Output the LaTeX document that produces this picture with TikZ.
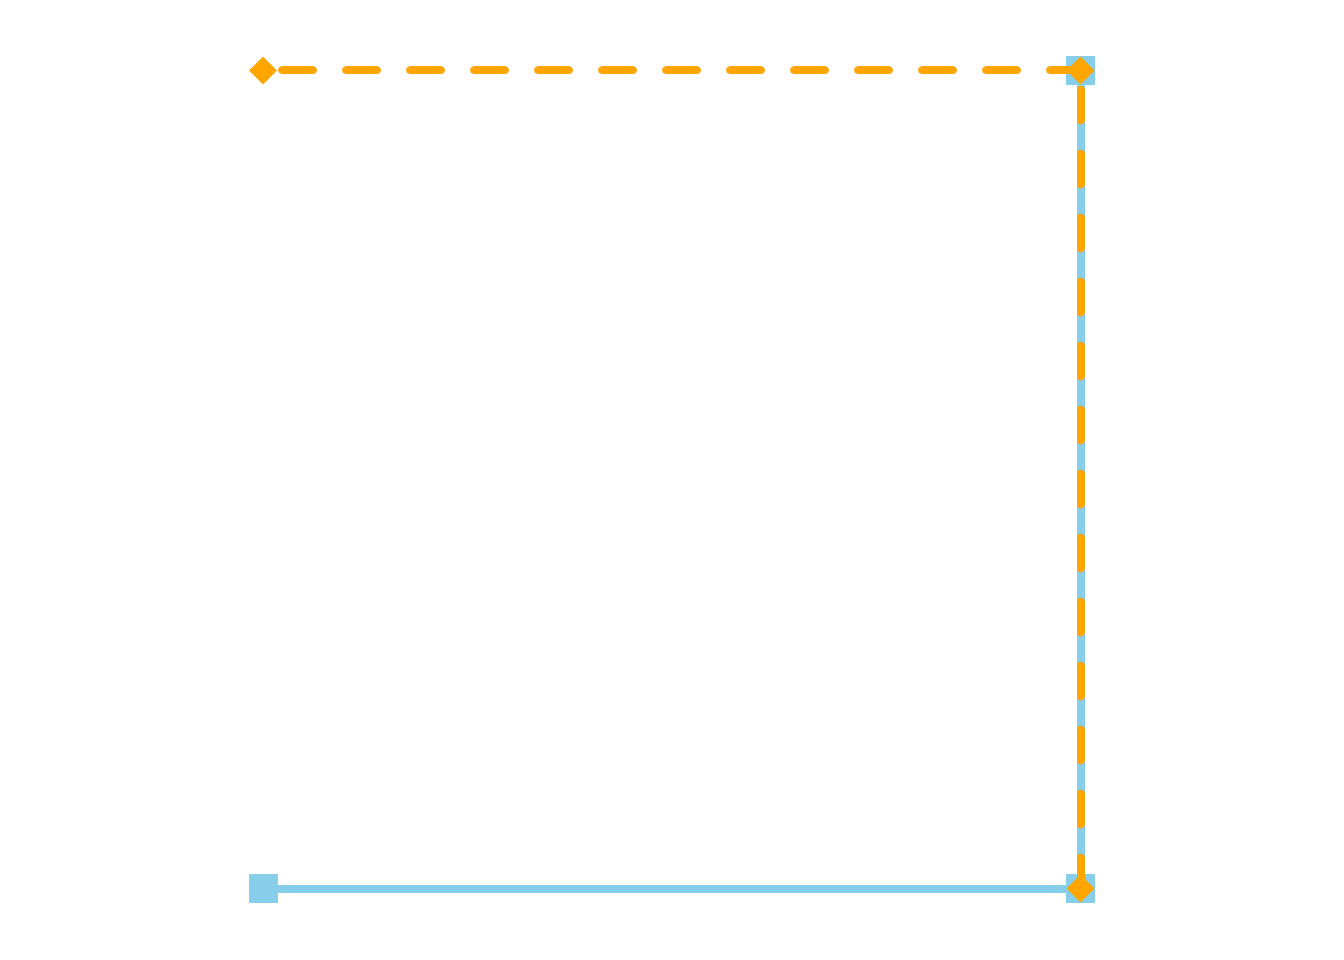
\documentclass[tikz,border=0pt]{standalone}
\usetikzlibrary{shapes.geometric}
\definecolor{skyb}{HTML}{87CEEB}
\definecolor{orng}{HTML}{FFA500}
\tikzset{
  sqmark/.style={rectangle, fill=skyb, draw=none, minimum size=29pt, inner sep=0pt},
  dmmark/.style={diamond, fill=orng, draw=none, minimum size=28pt, inner sep=0pt, aspect=1},
  blueline/.style={draw=skyb, line width=8pt},
  orangeline/.style={draw=orng, line width=8pt, line cap=round, dash pattern=on 31pt off 33pt, dash phase=45pt}
}
\begin{document}
\begin{tikzpicture}[x=1pt,y=-1pt]
\useasboundingbox (0,0) rectangle (1344,960);
\coordinate (b1) at (263,888.5);
\coordinate (b2) at (1080.5,888.5);
\coordinate (b3) at (1080.5,70.5);
\draw[blueline] (b1) -- (b2) -- (b3);
\node[sqmark] (s1) at (b1) {};
\node[sqmark] (s2) at (b2) {};
\node[sqmark] (s3) at (b3) {};
\coordinate (o1) at (263,70.5);
\coordinate (o2) at (1080.5,70.5);
\coordinate (o3) at (1080.5,888.5);
\draw[orangeline] (o1) -- (o2);
\draw[orangeline] (o2) -- (o3);
\node[dmmark] (d1) at (o1) {};
\node[dmmark] (d2) at (o2) {};
\node[dmmark] (d3) at (o3) {};
\end{tikzpicture}
\end{document}
